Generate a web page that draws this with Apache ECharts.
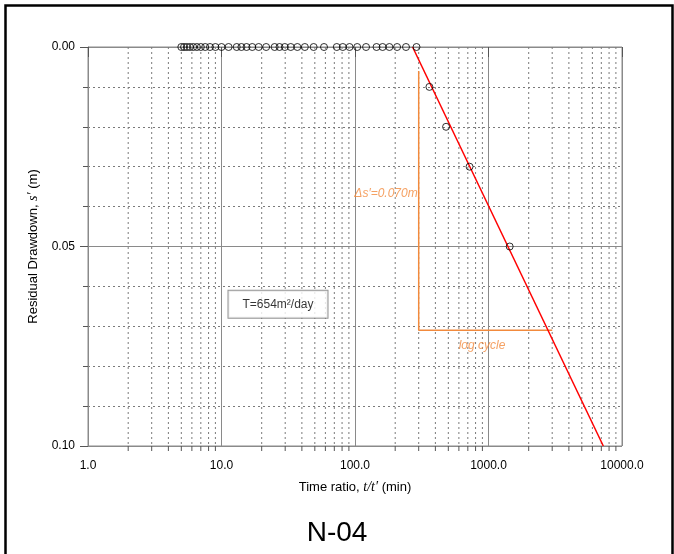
<!DOCTYPE html>
<html>
<head>
<meta charset="utf-8">
<script src="https://cdn.jsdelivr.net/npm/echarts@6/dist/echarts.min.js"></script>
<style>html,body{margin:0;padding:0;background:#fff}#c{width:674px;height:554px}</style>
</head>
<body>
<div id="c"></div>
<script>
// ---- data ----
const zeroRatios = [5.0, 5.24, 5.5, 5.8, 6.14, 6.54, 7.0, 7.55, 8.2, 9.0, 10.0, 11.3, 13.0, 14.1, 15.4, 17.0, 19.0, 21.6, 25.0, 27.2, 29.8, 33.0, 37.0, 42.1, 49.0, 58.6, 73.0, 81.0, 91.0, 103.9, 121.0, 145.0, 161.0, 181.0, 206.7, 241.0, 289.0];
const dropRatios = [361, 481, 721, 1441];
const dropValues = [0.01, 0.02, 0.03, 0.05];
const fitX = [270, 7244];
const fitY = [0.0, 0.10];
const annotX = [300, 300, 3000];
const annotY = [0.006, 0.071, 0.071];
const xMinorTicks = [2,3,4,5,6,7,8,9,20,30,40,50,60,70,80,90,200,300,400,500,600,700,800,900,2000,3000,4000,5000,6000,7000,8000,9000];
const xTickLabels = ['1.0','10.0','100.0','1000.0','10000.0'];
const yTickLabels = ['0.00','0.05','0.10'];
const deltaLabel = 'Δs′=0.070m';
const cycleLabel = 'log cycle';
const tLabel = 'T=654m²/day';
const chartTitle = 'N-04';

const points = zeroRatios.map(v => [v, 0]).concat(dropRatios.map((v, i) => [v, dropValues[i]]));
const orange = '#F28A3C';
const font = 'Liberation Sans, Arial, sans-serif';

const chart = echarts.init(document.getElementById('c'), null, {renderer: 'canvas'});
chart.setOption({
  backgroundColor: '#fff',
  animation: false,
  textStyle: {fontFamily: font},
  title: {
    text: chartTitle, left: 'center', top: 514,
    textStyle: {fontFamily: font, fontSize: 28, fontWeight: 'normal', color: '#000'}
  },
  graphic: [{
    type: 'rect', left: 3, top: 3, shape: {width: 667, height: 580},
    style: {fill: 'none', stroke: '#000', lineWidth: 2.5}, silent: true, z: 100
  }],
  grid: {left: 88, right: 52, top: 47, bottom: 108, show: true, borderColor: '#8a8a8a', borderWidth: 1},
  xAxis: {
    type: 'log', logBase: 10, min: 1, max: 10000,
    name: 'Time ratio, {i|t/t′} (min)', nameLocation: 'middle', nameGap: 34,
    nameTextStyle: {fontSize: 13, color: '#000', fontFamily: font,
      rich: {i: {fontStyle: 'italic', fontFamily: 'Liberation Serif, Times New Roman, serif', fontSize: 14, color: '#000'}}},
    axisLine: {show: true, lineStyle: {color: '#8a8a8a', width: 1}},
    axisTick: {show: true, length: 10, lineStyle: {color: '#555'}},
    axisLabel: {color: '#000', fontSize: 12, margin: 14, formatter: v => {
      const k = Math.round(Math.log10(v)); return xTickLabels[k] !== undefined ? xTickLabels[k] : '';
    }},
    splitLine: {show: true, lineStyle: {color: '#8a8a8a', width: 1}}
  },
  yAxis: {
    type: 'value', inverse: true, min: 0, max: 0.1, interval: 0.05,
    name: 'Residual Drawdown, {i|s′} (m)', nameLocation: 'middle', nameGap: 41, nameRotate: 90,
    nameTextStyle: {fontSize: 13, color: '#000', fontFamily: font,
      rich: {i: {fontStyle: 'italic', fontFamily: 'Liberation Serif, Times New Roman, serif', fontSize: 14, color: '#000'}}},
    axisLine: {show: true, lineStyle: {color: '#8a8a8a', width: 1}},
    axisTick: {show: true, length: 8, lineStyle: {color: '#555'}},
    minorTick: {show: true, splitNumber: 5, length: 5, lineStyle: {color: '#555'}},
    minorSplitLine: {show: true, lineStyle: {color: '#7a7a7a', type: [2, 3], width: 1}},
    axisLabel: {color: '#000', fontSize: 12, margin: 13, formatter: v => {
      const k = Math.round(v / 0.05); return yTickLabels[k] !== undefined ? yTickLabels[k] : '';
    }},
    splitLine: {show: true, lineStyle: {color: '#8a8a8a', width: 1}}
  },
  series: [
    {
      type: 'custom', clip: false, silent: true, z: 1,
      data: xMinorTicks.map(v => [v, 0]),
      renderItem: (params, api) => {
        const x = api.value(0);
        const p0 = api.coord([x, 0]);
        const p1 = api.coord([x, 0.1]);
        return {type: 'group', children: [
          {type: 'line', shape: {x1: p0[0], y1: p0[1], x2: p1[0], y2: p1[1]},
           style: {stroke: '#7a7a7a', lineWidth: 1, lineDash: [2, 3]}},
          {type: 'line', shape: {x1: p1[0], y1: p1[1], x2: p1[0], y2: p1[1] + 5},
           style: {stroke: '#555', lineWidth: 1}}
        ]};
      }
    },
    {
      type: 'line', data: annotX.map((v, i) => [v, annotY[i]]), symbol: 'none', silent: true, z: 3,
      lineStyle: {color: orange, width: 1.5}
    },
    {
      type: 'line', data: fitX.map((v, i) => [v, fitY[i]]), symbol: 'none', silent: true, z: 4,
      lineStyle: {color: '#FF0000', width: 1.5}
    },
    {
      type: 'scatter', data: points, symbol: 'circle', symbolSize: 7, silent: true, z: 5,
      itemStyle: {color: 'rgba(255,255,255,0)', borderColor: '#000', borderWidth: 1}
    },
    {
      type: 'scatter', symbolSize: 0, silent: true, z: 6,
      data: [
        {value: [300, 0.0368], label: {show: true, formatter: deltaLabel, position: 'left', distance: 1,
          color: orange, fontStyle: 'italic', fontSize: 12, fontFamily: font}},
        {value: [894, 0.0749], label: {show: true, formatter: cycleLabel, position: 'inside',
          color: orange, fontStyle: 'italic', fontSize: 12, fontFamily: font}},
        {value: [26.5, 0.0645], label: {show: true, formatter: tLabel, position: 'inside',
          color: '#000', fontSize: 12, fontFamily: font, backgroundColor: '#fff',
          borderColor: '#7a7a7a', borderWidth: 1, padding: [8, 14, 7, 14]}}
      ]
    }
  ]
});
</script>
</body>
</html>
